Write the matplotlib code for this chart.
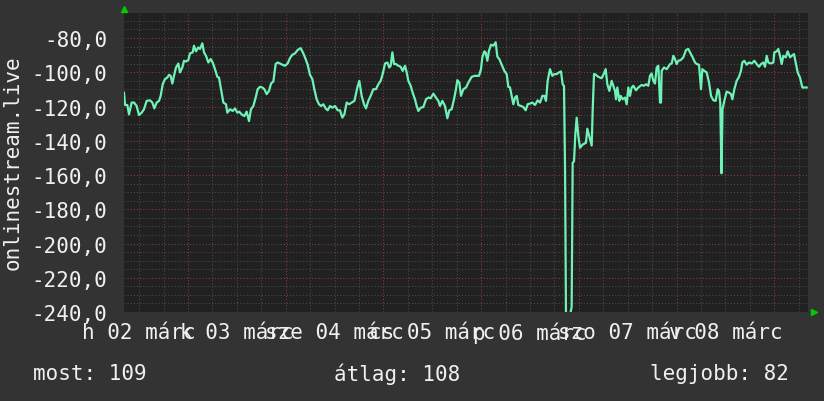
import matplotlib
matplotlib.use('agg')
import matplotlib.pyplot as plt
import numpy as np

# hours since the left edge of the graph, and the measured value
hours = [0.0, 0.25, 0.82, 1.23, 1.88, 2.46, 3.11, 3.68, 4.34, 4.91, 5.57, 6.39, 6.96, 7.45,
         8.02, 8.60, 9.01, 9.50, 10.07, 10.64, 11.05, 11.46, 11.87, 12.28, 12.77, 13.35,
         13.75, 14.33, 14.74, 15.23, 15.80, 16.21, 16.87, 17.19, 17.68, 18.26, 18.67,
         19.24, 19.65, 20.14, 20.71, 21.29, 21.78, 22.35, 22.92, 23.33, 23.82, 24.40,
         25.05, 25.38, 26.04, 26.69, 27.26, 27.84, 28.30, 28.90, 29.56, 30.13, 30.70,
         31.19, 31.77, 32.34, 32.83, 33.40, 33.98, 34.47, 35.04, 35.61, 36.11, 36.68,
         37.25, 37.74, 38.31, 38.89, 39.54, 40.20, 40.77, 41.34, 42.00, 42.65, 43.39,
         44.05, 44.62, 45.11, 45.68, 46.26, 46.75, 47.32, 47.89, 48.39, 48.96, 49.53,
         50.02, 50.60, 51.17, 51.83, 52.48, 53.05, 53.63, 54.12, 54.69, 55.26, 55.92,
         56.60, 57.31, 57.80, 58.37, 58.95, 59.44, 60.01, 60.58, 61.24, 61.90, 62.47,
         63.04, 63.53, 64.11, 64.68, 65.17, 65.50, 65.91, 66.32, 66.81, 67.38, 67.95,
         68.45, 69.02, 69.43, 69.84, 70.41, 70.90, 71.47, 71.88, 72.29, 72.87, 73.52,
         74.18, 74.75, 75.32, 75.98, 76.63, 77.20, 77.61, 78.19, 78.84, 79.42, 79.91,
         80.48, 81.05, 81.54, 81.87, 82.36, 82.77, 83.35, 84.00, 84.70, 85.39, 86.05,
         86.62, 87.19, 87.68, 88.01, 88.50, 88.83, 89.24, 89.65, 90.14, 90.71, 91.29,
         91.70, 92.19, 92.76, 93.42, 93.99, 94.40, 94.81, 95.22, 95.63, 96.04, 96.45,
         96.85, 97.51, 98.08, 98.66, 99.15, 99.72, 100.29, 100.95, 101.60, 102.18,
         102.75, 103.24, 103.65, 104.06, 104.63, 105.20, 105.70, 106.27, 106.84, 107.33,
         107.74, 108.07, 108.32, 108.56, 109.54, 109.95, 110.20, 110.53, 110.85, 111.18,
         111.59, 112.00, 112.66, 113.47, 113.80, 114.46, 114.87, 115.11, 115.44, 115.68,
         116.50, 117.32, 117.89, 118.31, 118.71, 119.21, 119.78, 120.19, 120.60, 120.84,
         121.17, 121.66, 121.99, 122.48, 123.05, 123.46, 123.87, 124.28, 124.69, 125.10,
         125.76, 126.33, 127.15, 127.72, 128.21, 128.78, 129.19, 129.60, 130.01, 130.42,
         130.83, 131.24, 131.65, 131.89, 132.06, 132.63, 133.29, 133.70, 134.11, 134.52,
         134.93, 135.33, 135.74, 136.15, 136.73, 137.38, 138.04, 138.61, 139.02, 139.67,
         140.25, 140.66, 141.23, 141.48, 141.72, 142.05, 142.54, 143.11, 143.69, 144.18,
         144.75, 145.32, 145.81, 146.14, 146.45, 146.75, 147.00, 147.45, 148.02, 148.60,
         149.09, 149.42, 149.91, 150.48, 151.05, 151.54, 151.87, 152.36, 152.94, 153.51,
         154.17, 154.82, 155.39, 155.97, 156.46, 157.03, 157.44, 157.85, 158.26, 158.92,
         159.49, 159.73, 160.31, 160.71, 161.12, 161.53, 161.94, 162.52, 163.01, 163.58,
         163.99, 164.56, 164.97, 165.46, 166.04, 166.61, 167.67]
values = [-112.0, -119.1, -119.1, -124.6, -117.7, -117.7, -119.7, -125.0, -123.6, -121.6,
          -116.7, -116.4, -117.7, -121.1, -117.7, -116.7, -113.8, -107.0, -104.0, -103.1,
          -101.5, -102.1, -106.6, -102.1, -97.2, -94.9, -100.1, -97.2, -93.3, -93.7, -92.9,
          -89.0, -88.4, -84.5, -87.8, -85.5, -86.4, -83.1, -88.4, -90.4, -94.3, -92.3,
          -94.3, -98.2, -102.7, -103.1, -109.9, -117.7, -118.7, -123.6, -121.6, -122.6,
          -121.1, -123.6, -123.0, -124.6, -125.6, -123.0, -128.5, -121.6, -119.7, -114.8,
          -109.9, -108.5, -108.9, -109.9, -112.8, -110.9, -106.6, -105.4, -95.2, -94.3,
          -94.9, -95.6, -96.2, -94.9, -91.7, -89.8, -89.0, -87.0, -85.9, -89.0, -92.3,
          -95.6, -101.5, -104.0, -109.9, -115.8, -118.7, -119.7, -118.7, -121.1, -122.2,
          -119.7, -120.7, -119.7, -122.2, -122.2, -126.5, -124.6, -117.7, -118.7, -117.7,
          -116.7, -108.9, -105.0, -113.8, -118.7, -121.1, -116.7, -113.8, -109.9, -109.9,
          -107.0, -105.0, -101.1, -94.9, -94.3, -97.2, -96.2, -88.4, -95.2, -95.2, -96.2,
          -96.8, -99.2, -96.2, -100.1, -105.0, -107.9, -111.9, -115.8, -119.7, -122.6,
          -120.7, -120.3, -115.8, -114.8, -115.2, -112.5, -114.8, -116.7, -119.7, -116.7,
          -119.7, -126.9, -122.2, -121.6, -115.8, -109.9, -104.6, -106.0, -113.8, -109.9,
          -108.9, -105.5, -102.7, -102.1, -102.1, -102.1, -98.2, -91.3, -87.8, -88.4,
          -93.3, -87.4, -83.9, -84.5, -82.5, -90.9, -92.3, -95.6, -99.2, -101.1, -108.5,
          -108.9, -113.8, -118.7, -114.8, -113.8, -119.1, -119.7, -120.3, -122.2, -118.7,
          -118.3, -117.7, -119.1, -116.4, -117.7, -113.8, -113.8, -116.7, -105.0, -98.2,
          -102.1, -101.1, -101.1, -100.1, -99.5, -107.0, -108.0, -154.9, -242.0, -242.0,
          -237.0, -152.9, -152.0, -136.3, -126.5, -137.3, -144.1, -142.2, -141.2, -133.0,
          -139.2, -142.8, -122.6, -101.1, -101.1, -102.7, -103.5, -100.7, -98.2, -107.0,
          -110.9, -105.0, -107.9, -110.9, -115.8, -108.9, -116.7, -113.8, -115.8, -114.8,
          -118.7, -108.9, -113.8, -108.9, -107.9, -110.5, -108.9, -107.4, -107.9, -107.0,
          -107.9, -102.1, -100.7, -105.0, -106.6, -97.2, -96.2, -117.7, -117.7, -99.2,
          -97.2, -98.2, -96.8, -95.2, -94.9, -90.4, -92.3, -95.2, -93.3, -92.9, -91.3,
          -87.0, -86.4, -88.4, -91.3, -94.3, -95.2, -95.6, -103.1, -109.9, -98.2, -99.2,
          -100.1, -106.0, -113.8, -116.4, -116.7, -109.9, -110.9, -118.0, -159.0, -121.6,
          -116.7, -111.3, -111.9, -112.8, -115.8, -109.9, -105.0, -102.7, -99.2, -94.3,
          -93.3, -95.6, -94.3, -94.9, -93.3, -95.2, -96.8, -95.2, -94.3, -96.8, -90.4,
          -94.3, -94.9, -94.3, -88.4, -87.8, -86.4, -90.4, -95.2, -90.4, -91.3, -87.8,
          -91.3, -90.4, -89.4, -94.3, -100.1, -103.1, -108.9, -108.9]

day_labels = ['h 02 márc', 'k 03 márc', 'sze 04 márc', 'cs 05 márc',
              'p 06 márc', 'szo 07 márc', 'v 08 márc']
first_label_hour = 3.72
ytick_vals = [-80, -100, -120, -140, -160, -180, -200, -220, -240]
legend = ['most: 109', 'átlag: 108', 'legjobb: 82']

BACK = '#333333'
CANVAS = '#212121'
LINE = '#6ef2b6'
TXT = '#f0f0f0'

plt.rcParams['font.family'] = ['DejaVu Sans Mono']

fig = plt.figure(figsize=(8.24, 4.02), dpi=100, facecolor=BACK)
ax = fig.add_axes([124 / 824, 1 - 313 / 402, 684 / 824, 299 / 402])
ax.set_facecolor(CANVAS)
ax.set_xlim(0, 168)
ax.set_ylim(-240, -65.4)

# grid: minor grey every 5 / 6h, major red every 20 / 24h
for y in np.arange(-240, -65, 5):
    major = (y % 20) == 0
    ax.axhline(y, color='#8a3c3c' if major else '#4c4c4c', lw=0.75,
               linestyle=(0, (1, 2)), zorder=1)
for x in np.arange(first_label_hour, 168, 6):
    major = abs(((x - first_label_hour) % 24) - 12) < 0.01
    ax.axvline(x, color='#8a3c3c' if major else '#4c4c4c', lw=0.75,
               linestyle=(0, (1, 2)), zorder=1)

ax.plot(hours, values, color=LINE, lw=1.6, zorder=3)

for s in ax.spines.values():
    s.set_visible(False)

ax.set_xticks(first_label_hour + 24 * np.arange(len(day_labels)))
ax.set_xticklabels(day_labels)
ax.set_yticks(ytick_vals)
ax.set_yticklabels([('%.1f' % v).replace('.', ',') for v in ytick_vals])
ax.tick_params(axis='both', length=0, colors=TXT, labelsize=15)
ax.tick_params(axis='y', pad=12)
ax.tick_params(axis='x', pad=7)

# rrdtool style arrows
fig.add_artist(plt.Line2D([124 / 824], [1 - 10 / 402], marker='^', color='#00cc00',
                          markersize=4, linestyle='none', transform=fig.transFigure))
fig.add_artist(plt.Line2D([814 / 824], [1 - 313 / 402], marker='>', color='#00cc00',
                          markersize=4, linestyle='none', transform=fig.transFigure))

fig.text(13 / 824, 1 - 163 / 402, 'onlinestream.live', rotation=90, color=TXT,
         fontsize=15, ha='center', va='center')

fig.text(33 / 824, 1 - 374 / 402, legend[0], color=TXT, fontsize=15, ha='left', va='center')
fig.text(334 / 824, 1 - 374 / 402, legend[1], color=TXT, fontsize=15, ha='left', va='center')
fig.text(650 / 824, 1 - 374 / 402, legend[2], color=TXT, fontsize=15, ha='left', va='center')

fig.savefig('out.png', dpi=100, facecolor=BACK)
